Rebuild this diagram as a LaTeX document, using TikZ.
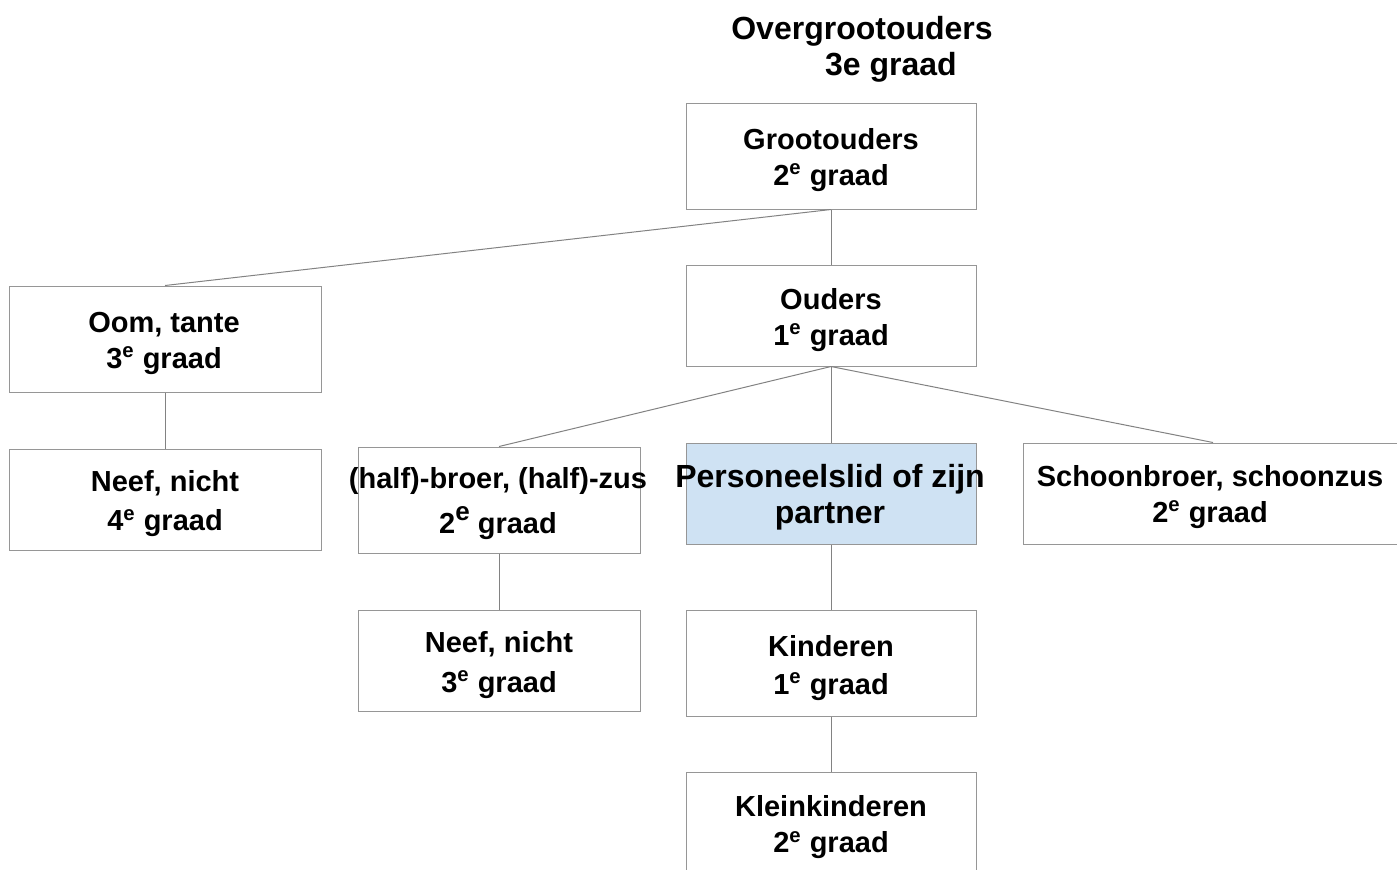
\documentclass[tikz,border=0pt]{standalone}
\usepackage{fontspec}
\setmainfont{Liberation Sans}
\definecolor{bordergray}{RGB}{150,150,150}
\definecolor{linegray}{RGB}{130,130,130}
\definecolor{persblue}{RGB}{207,226,243}
\newcommand{\sx}{\textsuperscript{e}}
\begin{document}
\begin{tikzpicture}[x=0.5pt,y=-0.5pt,
  bx/.style={draw=bordergray,line width=0.5pt,inner sep=0pt,fill=white},
  txt/.style={align=center,inner sep=0pt,font=\fontsize{14.5}{18}\selectfont\bfseries},
  bigtxt/.style={align=center,inner sep=0pt,font=\fontsize{16}{18}\selectfont\bfseries},
  conn/.style={draw=linegray,line width=0.5pt}]
\useasboundingbox (0,0) rectangle (1397,869);
\clip (0,0) rectangle (1397,869);
% boxes
\node[bx,minimum width=145pt,minimum height=53pt] (groot) at (831,156) {};
\node[bx,minimum width=145pt,minimum height=50.5pt] (ouders) at (831,315.5) {};
\node[bx,minimum width=156pt,minimum height=53pt] (oom) at (165,339) {};
\node[bx,minimum width=156pt,minimum height=50.5pt] (neefb) at (165,499.5) {};
\node[bx,minimum width=141pt,minimum height=53pt] (half) at (499,500) {};
\node[bx,fill=persblue,minimum width=145pt,minimum height=50.5pt] (pers) at (831,493.5) {};
\node[bx,minimum width=190pt,minimum height=50.5pt] (schoon) at (1213,493.5) {};
\node[bx,minimum width=141pt,minimum height=50.5pt] (neefa) at (499,660.5) {};
\node[bx,minimum width=145pt,minimum height=53pt] (kind) at (831,663) {};
\node[bx,minimum width=145pt,minimum height=53pt] (klein) at (831,825) {};
% connectors
\draw[conn] (groot.south) -- (ouders.north);
\draw[conn] (groot.south) -- (oom.north);
\draw[conn] (oom.south) -- (neefb.north);
\draw[conn] (ouders.south) -- (half.north);
\draw[conn] (ouders.south) -- (pers.north);
\draw[conn] (ouders.south) -- (schoon.north);
\draw[conn] (half.south) -- (neefa.north);
\draw[conn] (pers.south) -- (kind.north);
\draw[conn] (kind.south) -- (klein.north);
% texts
\node[bigtxt] (ogt) at (862,49) {Overgrootouders\\\hspace*{29pt}3e graad};
\node[txt] (groott) at (831,160) {Grootouders\\2\sx{} graad};
\node[txt] (oudt) at (831,320) {Ouders\\1\sx{} graad};
\node[txt] (oomt) at (164,343) {Oom, tante\\3\sx{} graad};
\node[txt] (neefbt) at (165,504) {Neef, nicht\\[1.5pt]4\sx{} graad};
\node[txt] (halft) at (498,504) {(half)-broer, (half)-zus\\[4.5pt]2\raisebox{6.5pt}{\fontsize{13}{13}\selectfont e} graad};
\node[bigtxt] (perst) at (830,497) {Personeelslid of zijn\\partner};
\node[txt] (schoont) at (1210,497) {Schoonbroer, schoonzus\\2\sx{} graad};
\node[txt] (neefat) at (499,665) {Neef, nicht\\[2pt]3\sx{} graad};
\node[txt] (kindt) at (831,668) {Kinderen\\[1pt]1\sx{} graad};
\node[txt] (kleint) at (831,827) {Kleinkinderen\\2\sx{} graad};
\end{tikzpicture}
\end{document}
